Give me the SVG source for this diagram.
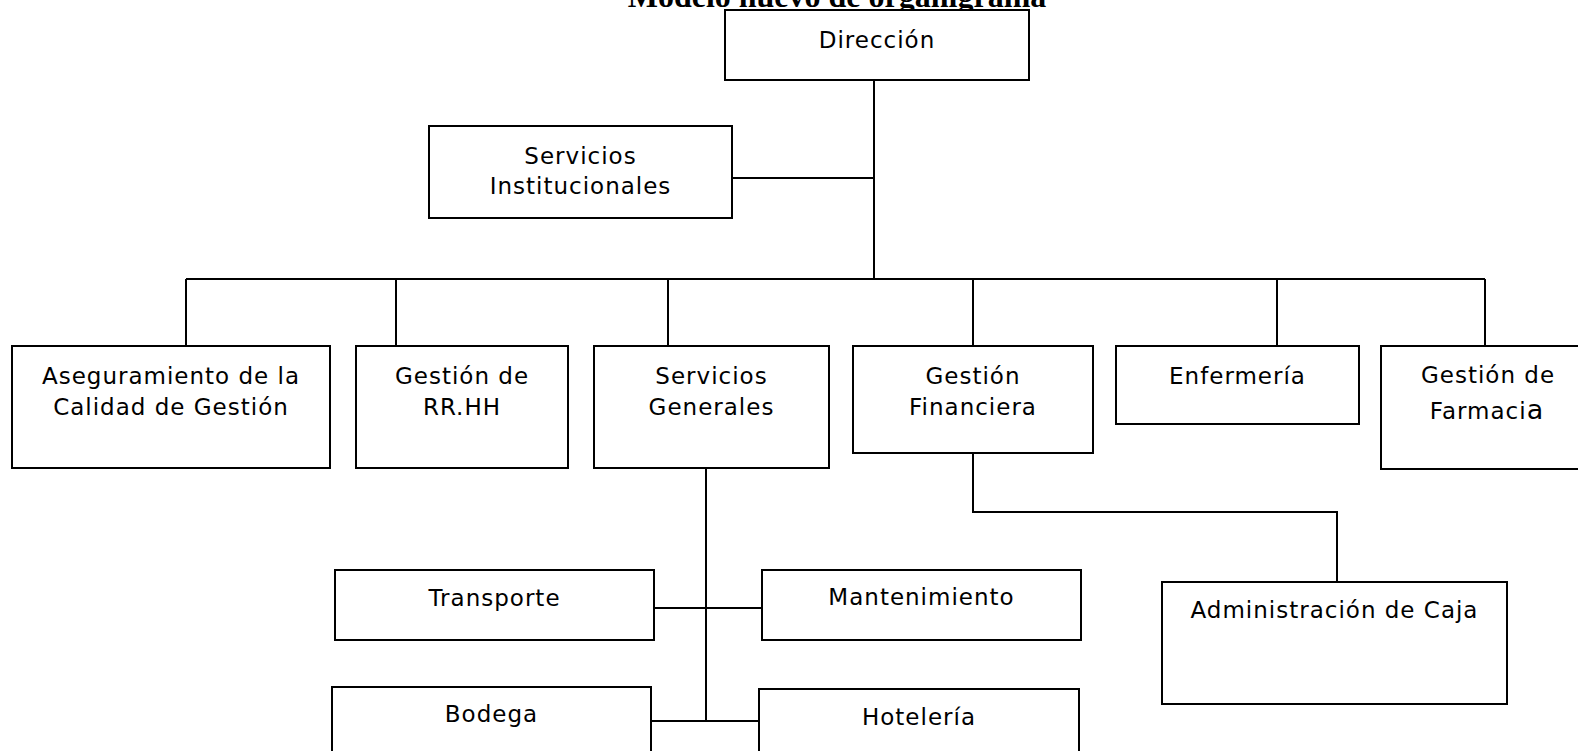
<svg xmlns="http://www.w3.org/2000/svg" width="1578" height="751" viewBox="0 0 1578 751">
<style>
  .box { fill: #ffffff; stroke: #000000; stroke-width: 2; }
  .lbl { font-family: "DejaVu Sans", "Liberation Sans", sans-serif; font-size: 23px; letter-spacing: 1px; fill: #000000; text-anchor: middle; }
  .title { font-family: "Liberation Serif", "Times New Roman", serif; font-size: 32px; font-weight: bold; fill: #000000; text-anchor: middle; }
  .conn { fill: none; stroke: #000000; stroke-width: 2; }
</style>
<rect x="0" y="0" width="1578" height="751" fill="#ffffff"/>
<text class="title" x="837" y="6.5">Modelo nuevo de organigrama</text>

<g id="connectors">
  <path class="conn" d="M874,80 V279"/>
  <path class="conn" d="M732,178 H874"/>
  <path class="conn" d="M186,279 H1485"/>
  <path class="conn" d="M186,279 V346"/>
  <path class="conn" d="M396,279 V346"/>
  <path class="conn" d="M668,279 V346"/>
  <path class="conn" d="M973,279 V346"/>
  <path class="conn" d="M1277,279 V346"/>
  <path class="conn" d="M1485,279 V346"/>
  <path class="conn" d="M706,468 V721"/>
  <path class="conn" d="M654,608 H762"/>
  <path class="conn" d="M651,721 H759"/>
  <path class="conn" d="M973,453 V512 H1337 V582"/>
</g>

<g id="n-direccion">
  <rect class="box" x="725" y="10" width="304" height="70"/>
  <text class="lbl" x="877" y="48">Dirección</text>
</g>
<g id="n-servicios-institucionales">
  <rect class="box" x="429" y="126" width="303" height="92"/>
  <text class="lbl" x="580.5" y="164">Servicios</text>
  <text class="lbl" x="580.5" y="194">Institucionales</text>
</g>
<g id="n-aseguramiento">
  <rect class="box" x="12" y="346" width="318" height="122"/>
  <text class="lbl" x="171" y="384">Aseguramiento de la</text>
  <text class="lbl" x="171" y="415">Calidad de Gestión</text>
</g>
<g id="n-rrhh">
  <rect class="box" x="356" y="346" width="212" height="122"/>
  <text class="lbl" x="462" y="384">Gestión de</text>
  <text class="lbl" x="462" y="415">RR.HH</text>
</g>
<g id="n-servicios-generales">
  <rect class="box" x="594" y="346" width="235" height="122"/>
  <text class="lbl" x="711.5" y="384">Servicios</text>
  <text class="lbl" x="711.5" y="415">Generales</text>
</g>
<g id="n-gestion-financiera">
  <rect class="box" x="853" y="346" width="240" height="107"/>
  <text class="lbl" x="973" y="384">Gestión</text>
  <text class="lbl" x="973" y="415">Financiera</text>
</g>
<g id="n-enfermeria">
  <rect class="box" x="1116" y="346" width="243" height="78"/>
  <text class="lbl" x="1237.5" y="384">Enfermería</text>
</g>
<g id="n-farmacia">
  <rect class="box" x="1381" y="346" width="230" height="123"/>
  <text class="lbl" x="1488" y="383">Gestión de</text>
  <text class="lbl" x="1487" y="419">Farmaci<tspan style="font-size:27px">a</tspan></text>
</g>
<g id="n-transporte">
  <rect class="box" x="335" y="570" width="319" height="70"/>
  <text class="lbl" x="494.5" y="606">Transporte</text>
</g>
<g id="n-mantenimiento">
  <rect class="box" x="762" y="570" width="319" height="70"/>
  <text class="lbl" x="921.5" y="605">Mantenimiento</text>
</g>
<g id="n-bodega">
  <rect class="box" x="332" y="687" width="319" height="90"/>
  <text class="lbl" x="491.5" y="722">Bodega</text>
</g>
<g id="n-hoteleria">
  <rect class="box" x="759" y="689" width="320" height="90"/>
  <text class="lbl" x="919" y="725">Hotelería</text>
</g>
<g id="n-caja">
  <rect class="box" x="1162" y="582" width="345" height="122"/>
  <text class="lbl" x="1334.5" y="618">Administración de Caja</text>
</g>
</svg>
